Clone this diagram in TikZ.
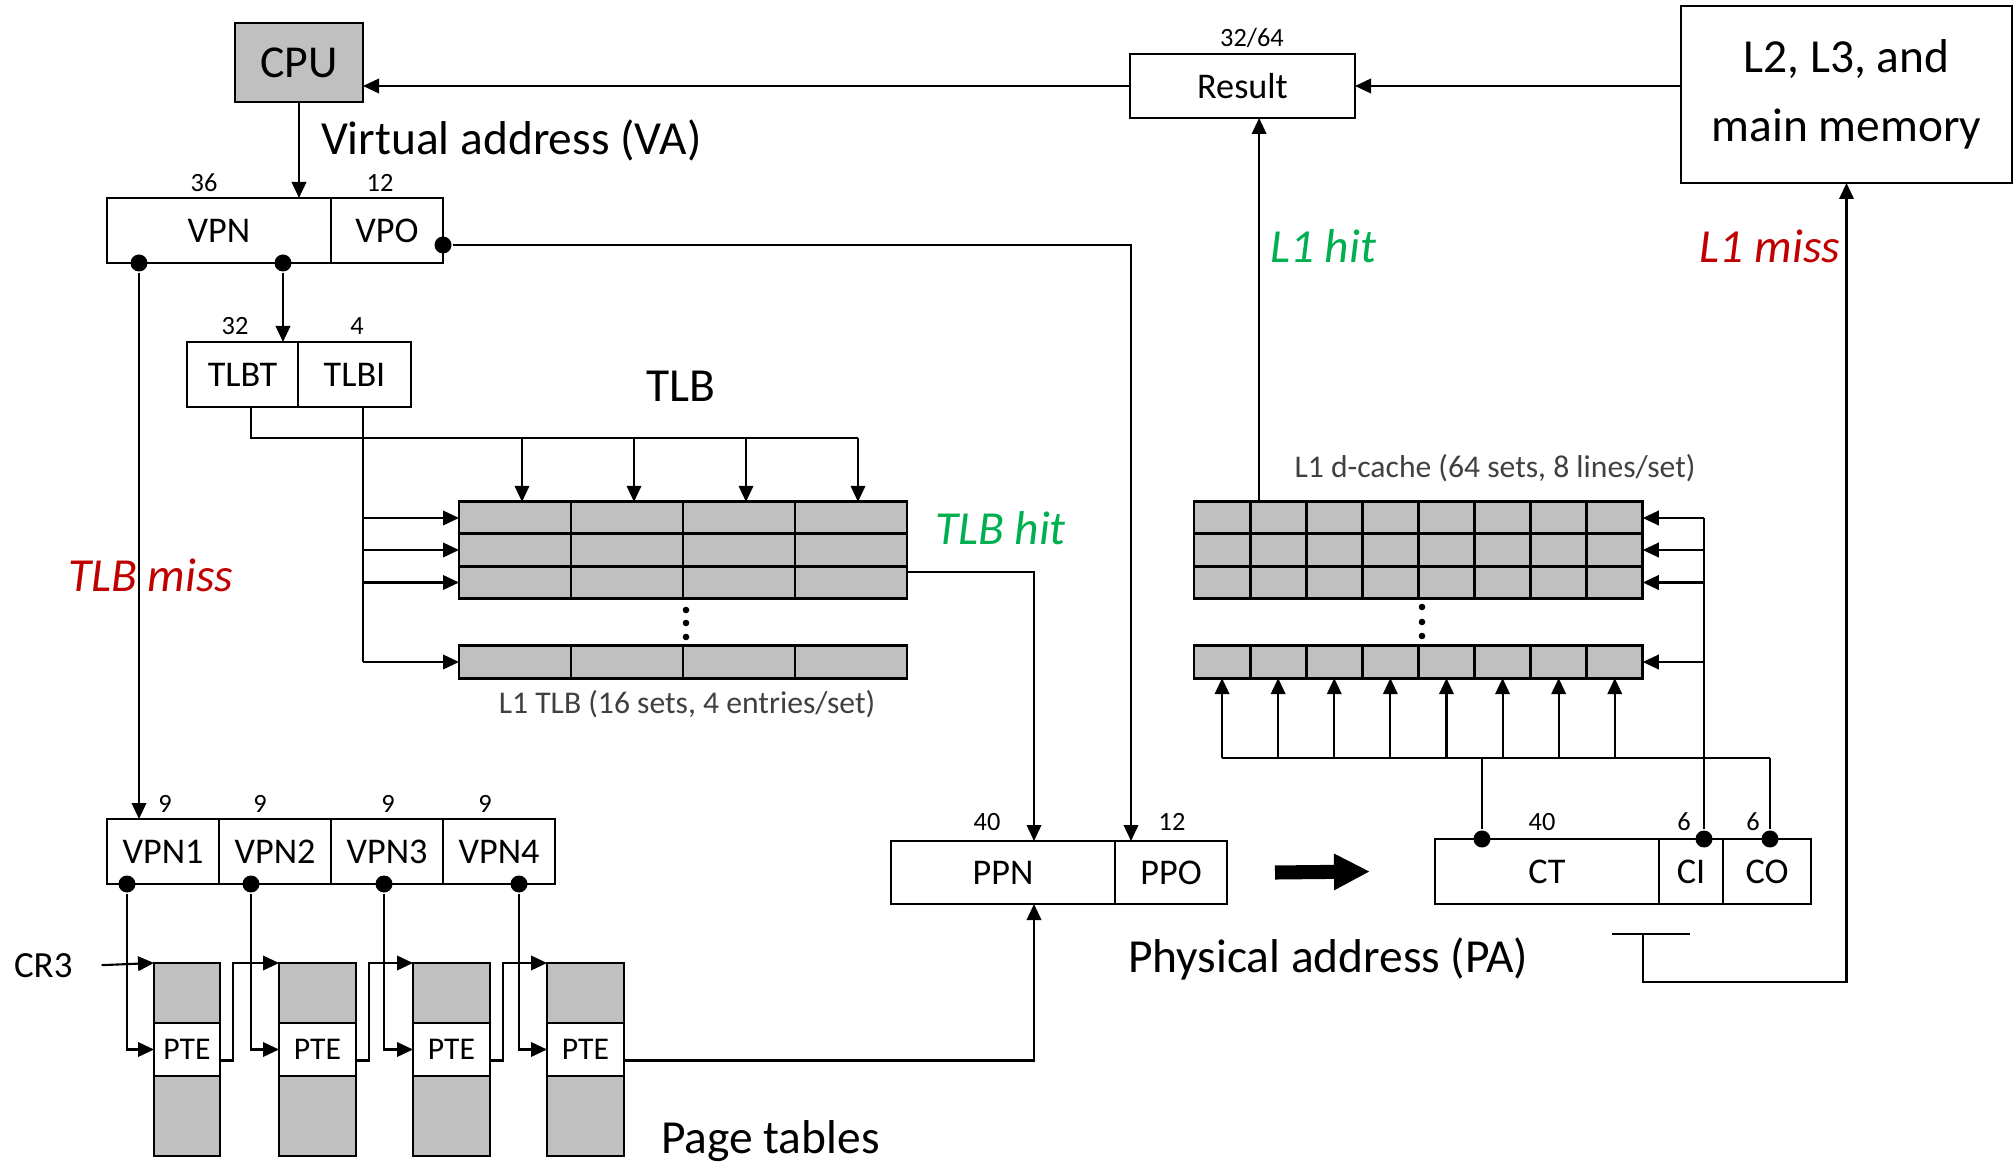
\documentclass[tikz,border=0pt]{standalone}
\usepackage{fontspec}
\setmainfont{Carlito}
\usetikzlibrary{arrows.meta,positioning,calc}

\definecolor{cellgray}{HTML}{C0C0C0}
\definecolor{missred}{HTML}{C00000}
\definecolor{hitgreen}{HTML}{00B050}
\definecolor{captext}{HTML}{404040}

\tikzset{
  box/.style={draw, line width=0.8pt, inner sep=0pt, outer sep=0pt, minimum height=0.65cm, font=\fontsize{10.3}{12}\selectfont},
  cell/.style={draw, line width=0.8pt, fill=cellgray, inner sep=0pt, outer sep=0pt, minimum height=0.323cm},
  bits/.style={inner sep=0pt, anchor=base, font=\fontsize{7.5}{9}\selectfont},
  title/.style={inner sep=0pt, anchor=base west, font=\fontsize{13.5}{16}\selectfont},
  hitmiss/.style={title, font=\fontsize{13.5}{16}\selectfont\itshape},
  caption/.style={inner sep=0pt, anchor=base, text=captext, font=\fontsize{9}{11}\selectfont},
  dot/.style={circle, fill, inner sep=0pt, minimum size=0.17cm},
  arr/.style={-{Triangle[length=0.16cm, width=0.145cm]}}
}

\begin{document}
\begin{tikzpicture}[line width=0.6pt]
\useasboundingbox (0,0) rectangle (20.15,-11.64);
%\tikzstyle{every node}=[draw];
\node [box, fill=cellgray, minimum width=1.28cm, minimum height=0.79cm, font=\fontsize{13}{16}\selectfont] (cpu) at (2.99,-0.625) {CPU};
\node [box, minimum width=2.25cm, minimum height=0.64cm] (result) at (12.425,-0.86) {Result};
\node [bits] (wres) at (12.52,-0.47) {32/64};
\node [box, minimum width=3.31cm, minimum height=1.77cm, align=center, font=\fontsize{13.5}{19.6}\selectfont] (mem) at (18.465,-0.945) {L2, L3, and\\main memory};

% virtual address
\node [title] (va) at (3.20,-1.55) {Virtual address (VA)};
\node [box, minimum width=2.24cm] (vpn) at (2.19,-2.305) {VPN};
\node [box, minimum width=1.12cm, right=0pt of vpn] (vpo) {VPO};
\node [bits] (wvpn) at (2.04,-1.92) {36};
\node [bits] (wvpo) at (3.80,-1.92) {12};
\node [dot] (dmiss) at (1.39,-2.63) {};
\node [dot] (dtlb) at (2.83,-2.63) {};
\node [dot] (dvpo) at (4.43,-2.45) {};

\node [box, minimum width=1.11cm] (tlbt) at (2.425,-3.745) {TLBT};
\node [box, minimum width=1.13cm, right=0pt of tlbt] (tlbi) {TLBI};
\node [bits] (wtlbt) at (2.35,-3.35) {32};
\node [bits] (wtlbi) at (3.57,-3.35) {4};

% TLB
\node [title, anchor=base] (tlbname) at (6.81,-4.02) {TLB};
\foreach \r/\y in {1/5.18,2/5.50,3/5.825,4/6.62}
  \foreach \c in {1,...,4}
    \node [cell, minimum width=1.12cm] (t-\r-\c) at ({4.03+1.12*\c},-\y) {};
\foreach \y in {6.10,6.23,6.37}
  \fill (6.86,-\y) circle (0.033);
\node [caption] (tlbcap) at (6.87,-7.13) {L1 TLB (16 sets, 4 entries/set)};
\node [hitmiss, text=hitgreen] (tlbhit) at (9.34,-5.45) {TLB hit};
\node [hitmiss, text=missred] (tlbmiss) at (0.67,-5.92) {TLB miss};

% L1 d-cache
\node [caption] (kcap) at (14.95,-4.78) {L1 d-cache (64 sets, 8 lines/set)};
\foreach \r/\y in {1/5.18,2/5.50,3/5.825,4/6.62}
  \foreach \c in {1,...,8}
    \node [cell, minimum width=0.561cm] (k-\r-\c) at ({11.6595+0.561*\c},-\y) {};
\foreach \y in {6.07,6.22,6.36}
  \fill (14.22,-\y) circle (0.033);
\node [hitmiss, text=hitgreen] (l1hit) at (12.69,-2.63) {L1 hit};
\node [hitmiss, text=missred, anchor=base east] (l1miss) at (18.41,-2.63) {L1 miss};

% VPN1..4 and page tables
\node [box, minimum width=1.12cm] (vpn1) at (1.63,-8.515) {VPN1};
\node [box, minimum width=1.12cm, right=0pt of vpn1] (vpn2) {VPN2};
\node [box, minimum width=1.12cm, right=0pt of vpn2] (vpn3) {VPN3};
\node [box, minimum width=1.12cm, right=0pt of vpn3] (vpn4) {VPN4};
\foreach \i/\x in {1/1.65,2/2.60,3/3.88,4/4.85}
  \node [bits] (w\i) at (\x,-8.12) {9};
\foreach \i/\x/\w in {1/1.87/0.66,2/3.175/0.77,3/4.515/0.77,4/5.855/0.77} {
  \node [cell, minimum width=\w cm, minimum height=1.93cm] (pt\i) at (\x,-10.595) {};
  \node [box, fill=white, minimum width=\w cm, minimum height=0.53cm, font=\fontsize{9}{11}\selectfont] (pte\i) at (\x,-10.495) {PTE};
}
\node [inner sep=0pt, anchor=base west, font=\fontsize{10.5}{12}\selectfont] (cr3) at (0.13,-9.77) {CR3};
\node [title] (ptname) at (6.60,-11.53) {Page tables};

% physical address
\node [box, minimum width=2.24cm, minimum height=0.63cm] (ppn) at (10.03,-8.725) {PPN};
\node [box, minimum width=1.12cm, minimum height=0.63cm, right=0pt of ppn] (ppo) {PPO};
\node [bits] (wppn) at (9.87,-8.30) {40};
\node [bits] (wppo) at (11.72,-8.30) {12};
\node [title] (pa) at (11.27,-9.72) {Physical address (PA)};

\node [box, minimum width=2.24cm] (ct) at (15.47,-8.715) {CT};
\node [box, minimum width=0.64cm, right=0pt of ct] (ci) {CI};
\node [box, minimum width=0.88cm, right=0pt of ci] (co) {CO};
\node [bits] (wct) at (15.42,-8.30) {40};
\node [bits] (wci) at (16.84,-8.30) {6};
\node [bits] (wco) at (17.53,-8.30) {6};
\node [dot] (dct) at (14.82,-8.39) {};
\node [dot] (dci) at (17.04,-8.39) {};
\node [dot] (dco) at (17.70,-8.39) {};

% connectors
\draw [arr] (cpu) -- (cpu |- vpn.north);
\draw [arr] (result.west) -- (result.west -| cpu.east);
\draw [arr] (mem.west |- result.east) -- (result.east);
\draw [arr] (dmiss) -- (dmiss |- vpn1.north);
\draw [arr] (dtlb) -- (dtlb |- tlbt.north);
\draw [arr] (dvpo) -| ([xshift=0.16cm]ppo.north west);

\coordinate (tt) at ([xshift=0.085cm]tlbt.south);
\coordinate (ti) at ([xshift=0.085cm]tlbi.south);
\draw (tt) |- ([xshift=0.07cm, yshift=0.64cm]t-1-4.north);
\foreach \c in {1,...,4}
  \draw [arr] ([xshift=0.07cm, yshift=0.64cm]t-1-\c.north) -- ([xshift=0.07cm]t-1-\c.north);
\draw (ti) -- (ti |- t-4-1.west);
\foreach \r in {1,...,4}
  \draw [arr] (ti |- t-\r-1.west) -- (t-\r-1.west);
\draw [arr] ([yshift=-0.06cm]t-3-4.north east) -| ([xshift=0.31cm]ppn.north);

\foreach \i/\x in {1/1.27,2/2.51,3/3.84,4/5.19} {
  \node [dot] (v\i) at (\x,-8.84) {};
  \draw [arr] (v\i) |- (pte\i.west);
}
\draw [arr] ([xshift=0.28cm]cr3.east) -- (pt1.north west);
\foreach \i/\j in {1/2,2/3,3/4}
  \draw [arr] ([yshift=-0.11cm]pte\i.east) -- ++(0.13,0) |- (pt\j.north west);
\draw [arr] ([yshift=-0.11cm]pte4.east) -| ([xshift=0.31cm]ppn.south);

\draw [line width=4pt, -{Triangle[length=0.36cm, width=0.34cm]}] ([xshift=0.48cm]ppo.east) -- ([xshift=-0.65cm]ct.west);

\draw (dci) -- (dci |- k-1-8.east);
\foreach \r in {1,...,4}
  \draw [arr] (dci |- k-\r-8.east) -- (k-\r-8.east);
\draw (dct) -- ++(0,0.81) coordinate (kb);
\draw (kb -| k-4-1.south) -- (kb -| dco);
\draw (dco) -- (dco |- kb);
\foreach \c in {1,...,8}
  \draw [arr] (kb -| k-4-\c.south) -- (k-4-\c.south);

\coordinate (hit) at ([xshift=0.09cm]k-1-1.north east);
\draw [arr] (hit) -- (hit |- result.south);
\coordinate (miss) at (16.43,-9.34);
\draw ([xshift=-0.31cm]miss) -- ([xshift=0.47cm]miss);
\draw [arr] (miss) -- ++(0,-0.48) -| (mem.south);
\end{tikzpicture}
\end{document}
